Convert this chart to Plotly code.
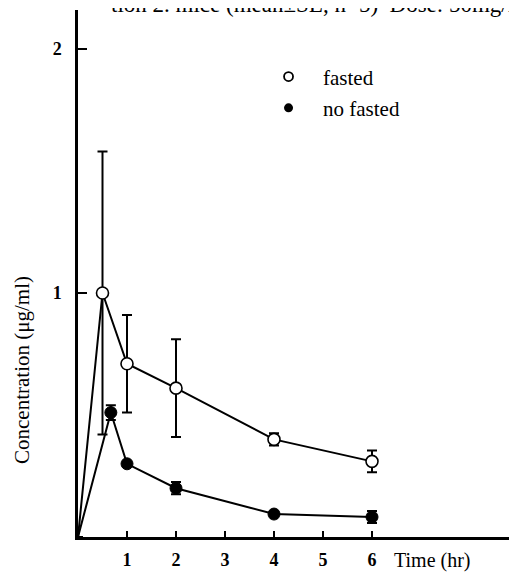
import plotly.graph_objects as go

# Data
fasted_t = [0, 0.5, 1, 2, 4, 6]
fasted_c = [0, 1.00, 0.71, 0.61, 0.40, 0.31]
fasted_se = [0, 0.58, 0.20, 0.20, 0.025, 0.045]

nofasted_t = [0, 0.67, 1, 2, 4, 6]
nofasted_c = [0, 0.51, 0.30, 0.20, 0.094, 0.082]
nofasted_se = [0, 0.03, 0.0, 0.025, 0.0, 0.025]

x_ticks = [1, 2, 3, 4, 5, 6]
y_ticks = [1, 2]

title_text = "tion 2. mice (mean±SE, n=5)  Dose: 50mg/kg"
FONT = "Liberation Serif"

fig = go.Figure()

err_style = dict(type="data", thickness=2, width=5, color="black")
sizes = [0, 12, 12, 12, 12, 12]  # no marker at origin

fig.add_trace(go.Scatter(
    x=fasted_t, y=fasted_c, mode="lines+markers",
    error_y=dict(array=fasted_se, **err_style),
    line=dict(color="black", width=2),
    marker=dict(symbol="circle", size=sizes, opacity=1, color="white",
                line=dict(color="black", width=1.6)),
    showlegend=False, cliponaxis=False,
))
fig.add_trace(go.Scatter(
    x=nofasted_t, y=nofasted_c, mode="lines+markers",
    error_y=dict(array=nofasted_se, **err_style),
    line=dict(color="black", width=2),
    marker=dict(symbol="circle", size=sizes, opacity=1, color="black",
                line=dict(color="black", width=1)),
    showlegend=False, cliponaxis=False,
))
# legend-only entries
fig.add_trace(go.Scatter(
    x=[None], y=[None], mode="markers", name="fasted", legendgroup="a",
    marker=dict(symbol="circle", size=9, color="white", line=dict(color="black", width=1.8)),
))
fig.add_trace(go.Scatter(
    x=[None], y=[None], mode="markers", name="no fasted", legendgroup="b",
    marker=dict(symbol="circle", size=9, color="black"),
))

fig.add_annotation(
    text=title_text, xref="paper", yref="paper", x=0.07, y=1.0, yshift=-9,
    xanchor="left", yanchor="bottom", showarrow=False,
    font=dict(family=FONT, size=23, color="black"),
)
fig.add_annotation(
    text="Time (hr)", xref="x", yref="paper", x=6.4, y=0, yshift=-23,
    xanchor="left", yanchor="middle", showarrow=False,
    font=dict(family=FONT, size=20, color="black"),
)
fig.add_annotation(
    text="Concentration (μg/ml)", xref="paper", yref="paper",
    x=0, xshift=-56, y=(537 - 370) / 527, textangle=-90,
    xanchor="center", yanchor="middle", showarrow=False,
    font=dict(family=FONT, size=21, color="black"),
)

fig.update_layout(
    width=517, height=576,
    margin=dict(l=70, r=8, t=2, b=47, autoexpand=False),
    paper_bgcolor="white", plot_bgcolor="white",
    font=dict(family=FONT, color="black"),
    legend=dict(
        x=0.401, y=0.912, xanchor="left", yanchor="top", itemwidth=59,
        font=dict(family=FONT, size=21, color="black"),
        bgcolor="rgba(0,0,0,0)", tracegroupgap=1, traceorder="grouped",
    ),
)
fig.update_xaxes(
    range=[0, 439 / 49], tickvals=x_ticks, ticktext=[str(v) for v in x_ticks],
    showline=True, linecolor="black", linewidth=2.5, mirror=False, automargin=False,
    ticks="inside", ticklen=6, tickwidth=2, tickcolor="black",
    showgrid=False, zeroline=False, ticklabelstandoff=5,
    tickfont=dict(family=FONT, size=18, color="black", weight="bold"),
)
fig.update_yaxes(
    range=[0, 527 / 244], tickvals=y_ticks, ticktext=[str(v) for v in y_ticks],
    showline=True, linecolor="black", linewidth=2.5, mirror=False, automargin=False,
    ticks="inside", ticklen=9, tickwidth=2, tickcolor="black",
    showgrid=False, zeroline=False, ticklabelstandoff=10,
    tickfont=dict(family=FONT, size=18, color="black", weight="bold"),
)

fig.write_html("out.html")
